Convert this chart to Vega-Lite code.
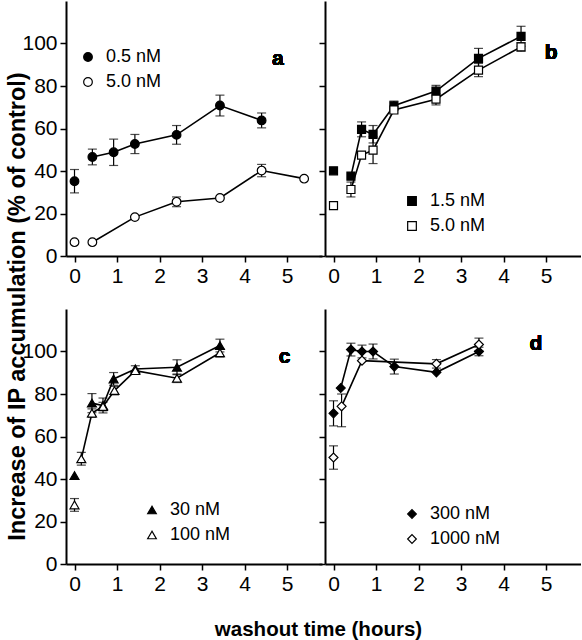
{
  "$schema": "https://vega.github.io/schema/vega-lite/v6.json",
  "padding": {"left": 5, "top": 1, "right": 0, "bottom": 0},
  "background": "white",
  "datasets": {
    "pts": [
      {"p": "a", "s": "0.5 nM", "t": 0, "v": 35.2, "lo": 29.7, "hi": 40.7},
      {"p": "a", "s": "0.5 nM", "t": 0.42, "v": 46.6, "lo": 42.9, "hi": 50.3},
      {"p": "a", "s": "0.5 nM", "t": 0.92, "v": 48.8, "lo": 42.6, "hi": 55.0},
      {"p": "a", "s": "0.5 nM", "t": 1.42, "v": 52.7, "lo": 48.2, "hi": 57.2},
      {"p": "a", "s": "0.5 nM", "t": 2.4, "v": 57.0, "lo": 52.6, "hi": 61.4},
      {"p": "a", "s": "0.5 nM", "t": 3.42, "v": 70.8, "lo": 65.9, "hi": 75.7},
      {"p": "a", "s": "0.5 nM", "t": 4.4, "v": 63.8, "lo": 60.3, "hi": 67.3},
      {"p": "a", "s": "5.0 nM", "t": 0, "v": 6.5, "lo": null, "hi": null},
      {"p": "a", "s": "5.0 nM", "t": 0.42, "v": 6.5, "lo": null, "hi": null},
      {"p": "a", "s": "5.0 nM", "t": 1.42, "v": 18.3, "lo": null, "hi": null},
      {"p": "a", "s": "5.0 nM", "t": 2.4, "v": 25.5, "lo": 23.2, "hi": 27.8},
      {"p": "a", "s": "5.0 nM", "t": 3.42, "v": 27.3, "lo": null, "hi": null},
      {"p": "a", "s": "5.0 nM", "t": 4.4, "v": 40.2, "lo": 37.3, "hi": 43.1},
      {"p": "a", "s": "5.0 nM", "t": 5.4, "v": 36.4, "lo": null, "hi": null},

      {"p": "b", "s": "1.5 nM", "t": 0, "v": 40.1, "lo": null, "hi": null},
      {"p": "b", "s": "1.5 nM", "t": 0.41, "v": 37.6, "lo": null, "hi": null},
      {"p": "b", "s": "1.5 nM", "t": 0.66, "v": 59.6, "lo": 56.1, "hi": 63.1},
      {"p": "b", "s": "1.5 nM", "t": 0.93, "v": 57.2, "lo": 53.2, "hi": 61.4},
      {"p": "b", "s": "1.5 nM", "t": 1.42, "v": 70.7, "lo": 68.5, "hi": 72.9},
      {"p": "b", "s": "1.5 nM", "t": 2.41, "v": 77.6, "lo": 74.9, "hi": 80.3},
      {"p": "b", "s": "1.5 nM", "t": 3.41, "v": 93.0, "lo": 88.3, "hi": 97.7},
      {"p": "b", "s": "1.5 nM", "t": 4.41, "v": 103.4, "lo": 98.7, "hi": 108.1},
      {"p": "b", "s": "5.0 nM", "t": 0, "v": 23.7, "lo": null, "hi": null},
      {"p": "b", "s": "5.0 nM", "t": 0.41, "v": 31.3, "lo": 27.8, "hi": 34.8},
      {"p": "b", "s": "5.0 nM", "t": 0.66, "v": 47.5, "lo": null, "hi": null},
      {"p": "b", "s": "5.0 nM", "t": 0.93, "v": 49.8, "lo": 43.5, "hi": 56.1},
      {"p": "b", "s": "5.0 nM", "t": 1.42, "v": 68.7, "lo": null, "hi": null},
      {"p": "b", "s": "5.0 nM", "t": 2.41, "v": 73.8, "lo": 71.1, "hi": 76.5},
      {"p": "b", "s": "5.0 nM", "t": 3.41, "v": 87.5, "lo": 84.4, "hi": 90.6},
      {"p": "b", "s": "5.0 nM", "t": 4.41, "v": 98.4, "lo": 96.4, "hi": 100.4},

      {"p": "c", "s": "30 nM", "t": 0, "v": 41.6, "lo": null, "hi": null},
      {"p": "c", "s": "30 nM", "t": 0.41, "v": 75.7, "lo": 71.2, "hi": 80.2},
      {"p": "c", "s": "30 nM", "t": 0.67, "v": 74.6, "lo": 71.1, "hi": 78.1},
      {"p": "c", "s": "30 nM", "t": 0.92, "v": 87.1, "lo": 84.1, "hi": 90.1},
      {"p": "c", "s": "30 nM", "t": 1.43, "v": 91.8, "lo": 90.3, "hi": 93.3},
      {"p": "c", "s": "30 nM", "t": 2.41, "v": 92.6, "lo": 89.1, "hi": 96.1},
      {"p": "c", "s": "30 nM", "t": 3.42, "v": 102.8, "lo": 99.8, "hi": 105.8},
      {"p": "c", "s": "100 nM", "t": 0, "v": 27.8, "lo": 24.8, "hi": 30.8},
      {"p": "c", "s": "100 nM", "t": 0.16, "v": 49.5, "lo": 46.5, "hi": 52.5},
      {"p": "c", "s": "100 nM", "t": 0.41, "v": 71.0, "lo": 69.0, "hi": 73.0},
      {"p": "c", "s": "100 nM", "t": 0.67, "v": 74.1, "lo": 72.1, "hi": 76.1},
      {"p": "c", "s": "100 nM", "t": 0.94, "v": 81.6, "lo": 79.6, "hi": 83.6},
      {"p": "c", "s": "100 nM", "t": 1.43, "v": 91.0, "lo": null, "hi": null},
      {"p": "c", "s": "100 nM", "t": 2.41, "v": 87.4, "lo": 85.4, "hi": 89.4},
      {"p": "c", "s": "100 nM", "t": 3.42, "v": 99.4, "lo": 97.4, "hi": 101.4},

      {"p": "d", "s": "300 nM", "t": 0, "v": 70.9, "lo": 65.0, "hi": 76.8},
      {"p": "d", "s": "300 nM", "t": 0.17, "v": 82.8, "lo": null, "hi": null},
      {"p": "d", "s": "300 nM", "t": 0.41, "v": 100.9, "lo": 97.9, "hi": 103.9},
      {"p": "d", "s": "300 nM", "t": 0.67, "v": 100.0, "lo": 97.0, "hi": 103.0},
      {"p": "d", "s": "300 nM", "t": 0.93, "v": 100.0, "lo": 96.5, "hi": 103.5},
      {"p": "d", "s": "300 nM", "t": 1.43, "v": 92.9, "lo": 89.4, "hi": 96.4},
      {"p": "d", "s": "300 nM", "t": 2.42, "v": 90.2, "lo": null, "hi": null},
      {"p": "d", "s": "300 nM", "t": 3.42, "v": 100.0, "lo": 98.0, "hi": 102.0},
      {"p": "d", "s": "1000 nM", "t": 0, "v": 50.1, "lo": 44.6, "hi": 55.6},
      {"p": "d", "s": "1000 nM", "t": 0.19, "v": 74.2, "lo": 64.6, "hi": 80.0},
      {"p": "d", "s": "1000 nM", "t": 0.67, "v": 95.7, "lo": null, "hi": null},
      {"p": "d", "s": "1000 nM", "t": 2.42, "v": 94.2, "lo": 92.2, "hi": 96.2},
      {"p": "d", "s": "1000 nM", "t": 3.42, "v": 103.3, "lo": 100.3, "hi": 106.3}
    ]
  },
  "data": {"name": "pts"},
  "columns": 2,
  "spacing": {"row": 53, "column": 3},
  "bounds": "flush",
  "resolve": {
    "scale": {"fill": "independent", "shape": "independent"},
    "legend": {"fill": "independent", "shape": "independent"}
  },
  "concat": [
    {
      "width": 256, "height": 255,
      "transform": [{"filter": "datum.p === 'a'"}],
      "layer": [
        {
          "transform": [{"filter": "isValid(datum.lo)"}],
          "mark": {"type": "errorbar", "ticks": {"size": 9, "thickness": 1.2, "color": "black"}, "rule": {"color": "black", "strokeWidth": 1.2}},
          "encoding": {
            "x": {"field": "t", "type": "quantitative", "scale": {"domain": [-0.2, 5.82], "nice": false}, "axis": {"values": [0, 1, 2, 3, 4, 5], "title": null, "labelFlush": false}},
            "y": {"field": "lo", "type": "quantitative", "scale": {"domain": [0, 120], "nice": false}, "axis": {"values": [0, 20, 40, 60, 80, 100], "title": "Increase of IP accumulation (% of control)", "titleX": -37, "titleY": 305, "titleFontSize": 23.5, "titleFontWeight": "bold", "titleBaseline": "bottom", "titleAngle": -90}},
            "y2": {"field": "hi"}
          }
        },
        {
          "transform": [{"filter": "datum.t > 0"}],
          "mark": {"type": "line", "color": "black", "strokeWidth": 1.6},
          "encoding": {
            "x": {"field": "t", "type": "quantitative"},
            "y": {"field": "v", "type": "quantitative"},
            "detail": {"field": "s"}
          }
        },
        {
          "mark": {"type": "point", "filled": true, "stroke": "black", "strokeWidth": 1.2, "size": 75, "opacity": 1},
          "encoding": {
            "x": {"field": "t", "type": "quantitative"},
            "y": {"field": "v", "type": "quantitative"},
            "fill": {"field": "s", "type": "nominal", "scale": {"domain": ["0.5 nM", "5.0 nM"], "range": ["black", "white"]}, "legend": {"orient": "none", "legendX": 13, "legendY": 47, "encode": {"symbols": {"update": {"stroke": {"value": "black"}, "strokeWidth": {"value": 1.2}}}}}},
            "shape": {"field": "s", "type": "nominal", "scale": {"domain": ["0.5 nM", "5.0 nM"], "range": ["circle", "circle"]}, "legend": {"orient": "none", "legendX": 13, "legendY": 47, "encode": {"symbols": {"update": {"stroke": {"value": "black"}, "strokeWidth": {"value": 1.2}}}}}}
          }
        },
        {
          "mark": {"type": "text", "fontWeight": "bold", "fontSize": 21, "color": "black", "baseline": "middle", "align": "center"},
          "encoding": {"x": {"datum": 4.78}, "y": {"datum": 92.5}, "text": {"value": "a"}}
        }
      ]
    },
    {
      "width": 256, "height": 255,
      "transform": [{"filter": "datum.p === 'b'"}],
      "layer": [
        {
          "transform": [{"filter": "isValid(datum.lo)"}],
          "mark": {"type": "errorbar", "ticks": {"size": 9, "thickness": 1.2, "color": "black"}, "rule": {"color": "black", "strokeWidth": 1.2}},
          "encoding": {
            "x": {"field": "t", "type": "quantitative", "scale": {"domain": [-0.2, 5.82], "nice": false}, "axis": {"values": [0, 1, 2, 3, 4, 5], "title": null, "labelFlush": false}},
            "y": {"field": "lo", "type": "quantitative", "scale": {"domain": [0, 120], "nice": false}, "axis": {"values": [0, 20, 40, 60, 80, 100], "title": null, "labels": false}},
            "y2": {"field": "hi"}
          }
        },
        {
          "transform": [{"filter": "datum.t > 0"}],
          "mark": {"type": "line", "color": "black", "strokeWidth": 1.6},
          "encoding": {
            "x": {"field": "t", "type": "quantitative"},
            "y": {"field": "v", "type": "quantitative"},
            "detail": {"field": "s"}
          }
        },
        {
          "mark": {"type": "point", "filled": true, "stroke": "black", "strokeWidth": 1.2, "size": 64, "opacity": 1},
          "encoding": {
            "x": {"field": "t", "type": "quantitative"},
            "y": {"field": "v", "type": "quantitative"},
            "fill": {"field": "s", "type": "nominal", "scale": {"domain": ["1.5 nM", "5.0 nM"], "range": ["black", "white"]}, "legend": {"orient": "none", "legendX": 78, "legendY": 191, "encode": {"symbols": {"update": {"stroke": {"value": "black"}, "strokeWidth": {"value": 1.2}}}}}},
            "shape": {"field": "s", "type": "nominal", "scale": {"domain": ["1.5 nM", "5.0 nM"], "range": ["square", "square"]}, "legend": {"orient": "none", "legendX": 78, "legendY": 191, "encode": {"symbols": {"update": {"stroke": {"value": "black"}, "strokeWidth": {"value": 1.2}}}}}}
          }
        },
        {
          "mark": {"type": "text", "fontWeight": "bold", "fontSize": 21, "color": "black", "baseline": "middle", "align": "center"},
          "encoding": {"x": {"datum": 5.12}, "y": {"datum": 95.5}, "text": {"value": "b"}}
        }
      ]
    },
    {
      "width": 256, "height": 255,
      "transform": [{"filter": "datum.p === 'c'"}],
      "layer": [
        {
          "transform": [{"filter": "isValid(datum.lo)"}],
          "mark": {"type": "errorbar", "ticks": {"size": 9, "thickness": 1.2, "color": "black"}, "rule": {"color": "black", "strokeWidth": 1.2}},
          "encoding": {
            "x": {"field": "t", "type": "quantitative", "scale": {"domain": [-0.2, 5.82], "nice": false}, "axis": {"values": [0, 1, 2, 3, 4, 5], "title": "washout time (hours)", "labelFlush": false, "titleX": 252, "titleY": 71, "titleBaseline": "alphabetic", "titleFontSize": 20.5, "titleFontWeight": "bold"}},
            "y": {"field": "lo", "type": "quantitative", "scale": {"domain": [0, 120], "nice": false}, "axis": {"values": [0, 20, 40, 60, 80, 100], "title": null}},
            "y2": {"field": "hi"}
          }
        },
        {
          "transform": [{"filter": "datum.t > 0"}],
          "mark": {"type": "line", "color": "black", "strokeWidth": 1.6},
          "encoding": {
            "x": {"field": "t", "type": "quantitative"},
            "y": {"field": "v", "type": "quantitative"},
            "detail": {"field": "s"}
          }
        },
        {
          "mark": {"type": "point", "filled": true, "stroke": "black", "strokeWidth": 1.2, "size": 80, "opacity": 1},
          "encoding": {
            "x": {"field": "t", "type": "quantitative"},
            "y": {"field": "v", "type": "quantitative"},
            "fill": {"field": "s", "type": "nominal", "scale": {"domain": ["30 nM", "100 nM"], "range": ["black", "white"]}, "legend": {"orient": "none", "legendX": 77, "legendY": 192, "encode": {"symbols": {"update": {"stroke": {"value": "black"}, "strokeWidth": {"value": 1.2}}}}}},
            "shape": {"field": "s", "type": "nominal", "scale": {"domain": ["30 nM", "100 nM"], "range": ["triangle-up", "triangle-up"]}, "legend": {"orient": "none", "legendX": 77, "legendY": 192, "encode": {"symbols": {"update": {"stroke": {"value": "black"}, "strokeWidth": {"value": 1.2}}}}}}
          }
        },
        {
          "mark": {"type": "text", "fontWeight": "bold", "fontSize": 21, "color": "black", "baseline": "middle", "align": "center"},
          "encoding": {"x": {"datum": 4.94}, "y": {"datum": 97.5}, "text": {"value": "c"}}
        }
      ]
    },
    {
      "width": 256, "height": 255,
      "transform": [{"filter": "datum.p === 'd'"}],
      "layer": [
        {
          "transform": [{"filter": "isValid(datum.lo)"}],
          "mark": {"type": "errorbar", "ticks": {"size": 9, "thickness": 1.2, "color": "black"}, "rule": {"color": "black", "strokeWidth": 1.2}},
          "encoding": {
            "x": {"field": "t", "type": "quantitative", "scale": {"domain": [-0.2, 5.82], "nice": false}, "axis": {"values": [0, 1, 2, 3, 4, 5], "title": null, "labelFlush": false}},
            "y": {"field": "lo", "type": "quantitative", "scale": {"domain": [0, 120], "nice": false}, "axis": {"values": [0, 20, 40, 60, 80, 100], "title": null, "labels": false}},
            "y2": {"field": "hi"}
          }
        },
        {
          "transform": [{"filter": "datum.t > 0"}],
          "mark": {"type": "line", "color": "black", "strokeWidth": 1.6},
          "encoding": {
            "x": {"field": "t", "type": "quantitative"},
            "y": {"field": "v", "type": "quantitative"},
            "detail": {"field": "s"}
          }
        },
        {
          "mark": {"type": "point", "filled": true, "stroke": "black", "strokeWidth": 1.2, "size": 80, "opacity": 1},
          "encoding": {
            "x": {"field": "t", "type": "quantitative"},
            "y": {"field": "v", "type": "quantitative"},
            "fill": {"field": "s", "type": "nominal", "scale": {"domain": ["300 nM", "1000 nM"], "range": ["black", "white"]}, "legend": {"orient": "none", "legendX": 78, "legendY": 196, "encode": {"symbols": {"update": {"stroke": {"value": "black"}, "strokeWidth": {"value": 1.2}}}}}},
            "shape": {"field": "s", "type": "nominal", "scale": {"domain": ["300 nM", "1000 nM"], "range": ["diamond", "diamond"]}, "legend": {"orient": "none", "legendX": 78, "legendY": 196, "encode": {"symbols": {"update": {"stroke": {"value": "black"}, "strokeWidth": {"value": 1.2}}}}}}
          }
        },
        {
          "mark": {"type": "text", "fontWeight": "bold", "fontSize": 21, "color": "black", "baseline": "middle", "align": "center"},
          "encoding": {"x": {"datum": 4.76}, "y": {"datum": 103.5}, "text": {"value": "d"}}
        }
      ]
    }
  ],
  "config": {
    "font": "Liberation Sans",
    "view": {"stroke": null},
    "axis": {
      "domainColor": "black", "domainWidth": 2, "tickColor": "black", "tickWidth": 1.5, "tickSize": 6,
      "labelColor": "black", "labelFont": "Liberation Sans", "labelFontSize": 21, "labelPadding": 3,
      "grid": false, "titleColor": "black", "titleFont": "Liberation Sans"
    },
    "legend": {
      "title": null, "padding": 0, "labelFont": "Liberation Sans", "labelFontSize": 18, "labelColor": "black",
      "labelOffset": 9, "rowPadding": 7, "symbolSize": 75, "symbolStrokeColor": "black", "symbolStrokeWidth": 1.2, "symbolOpacity": 1
    }
  }
}
